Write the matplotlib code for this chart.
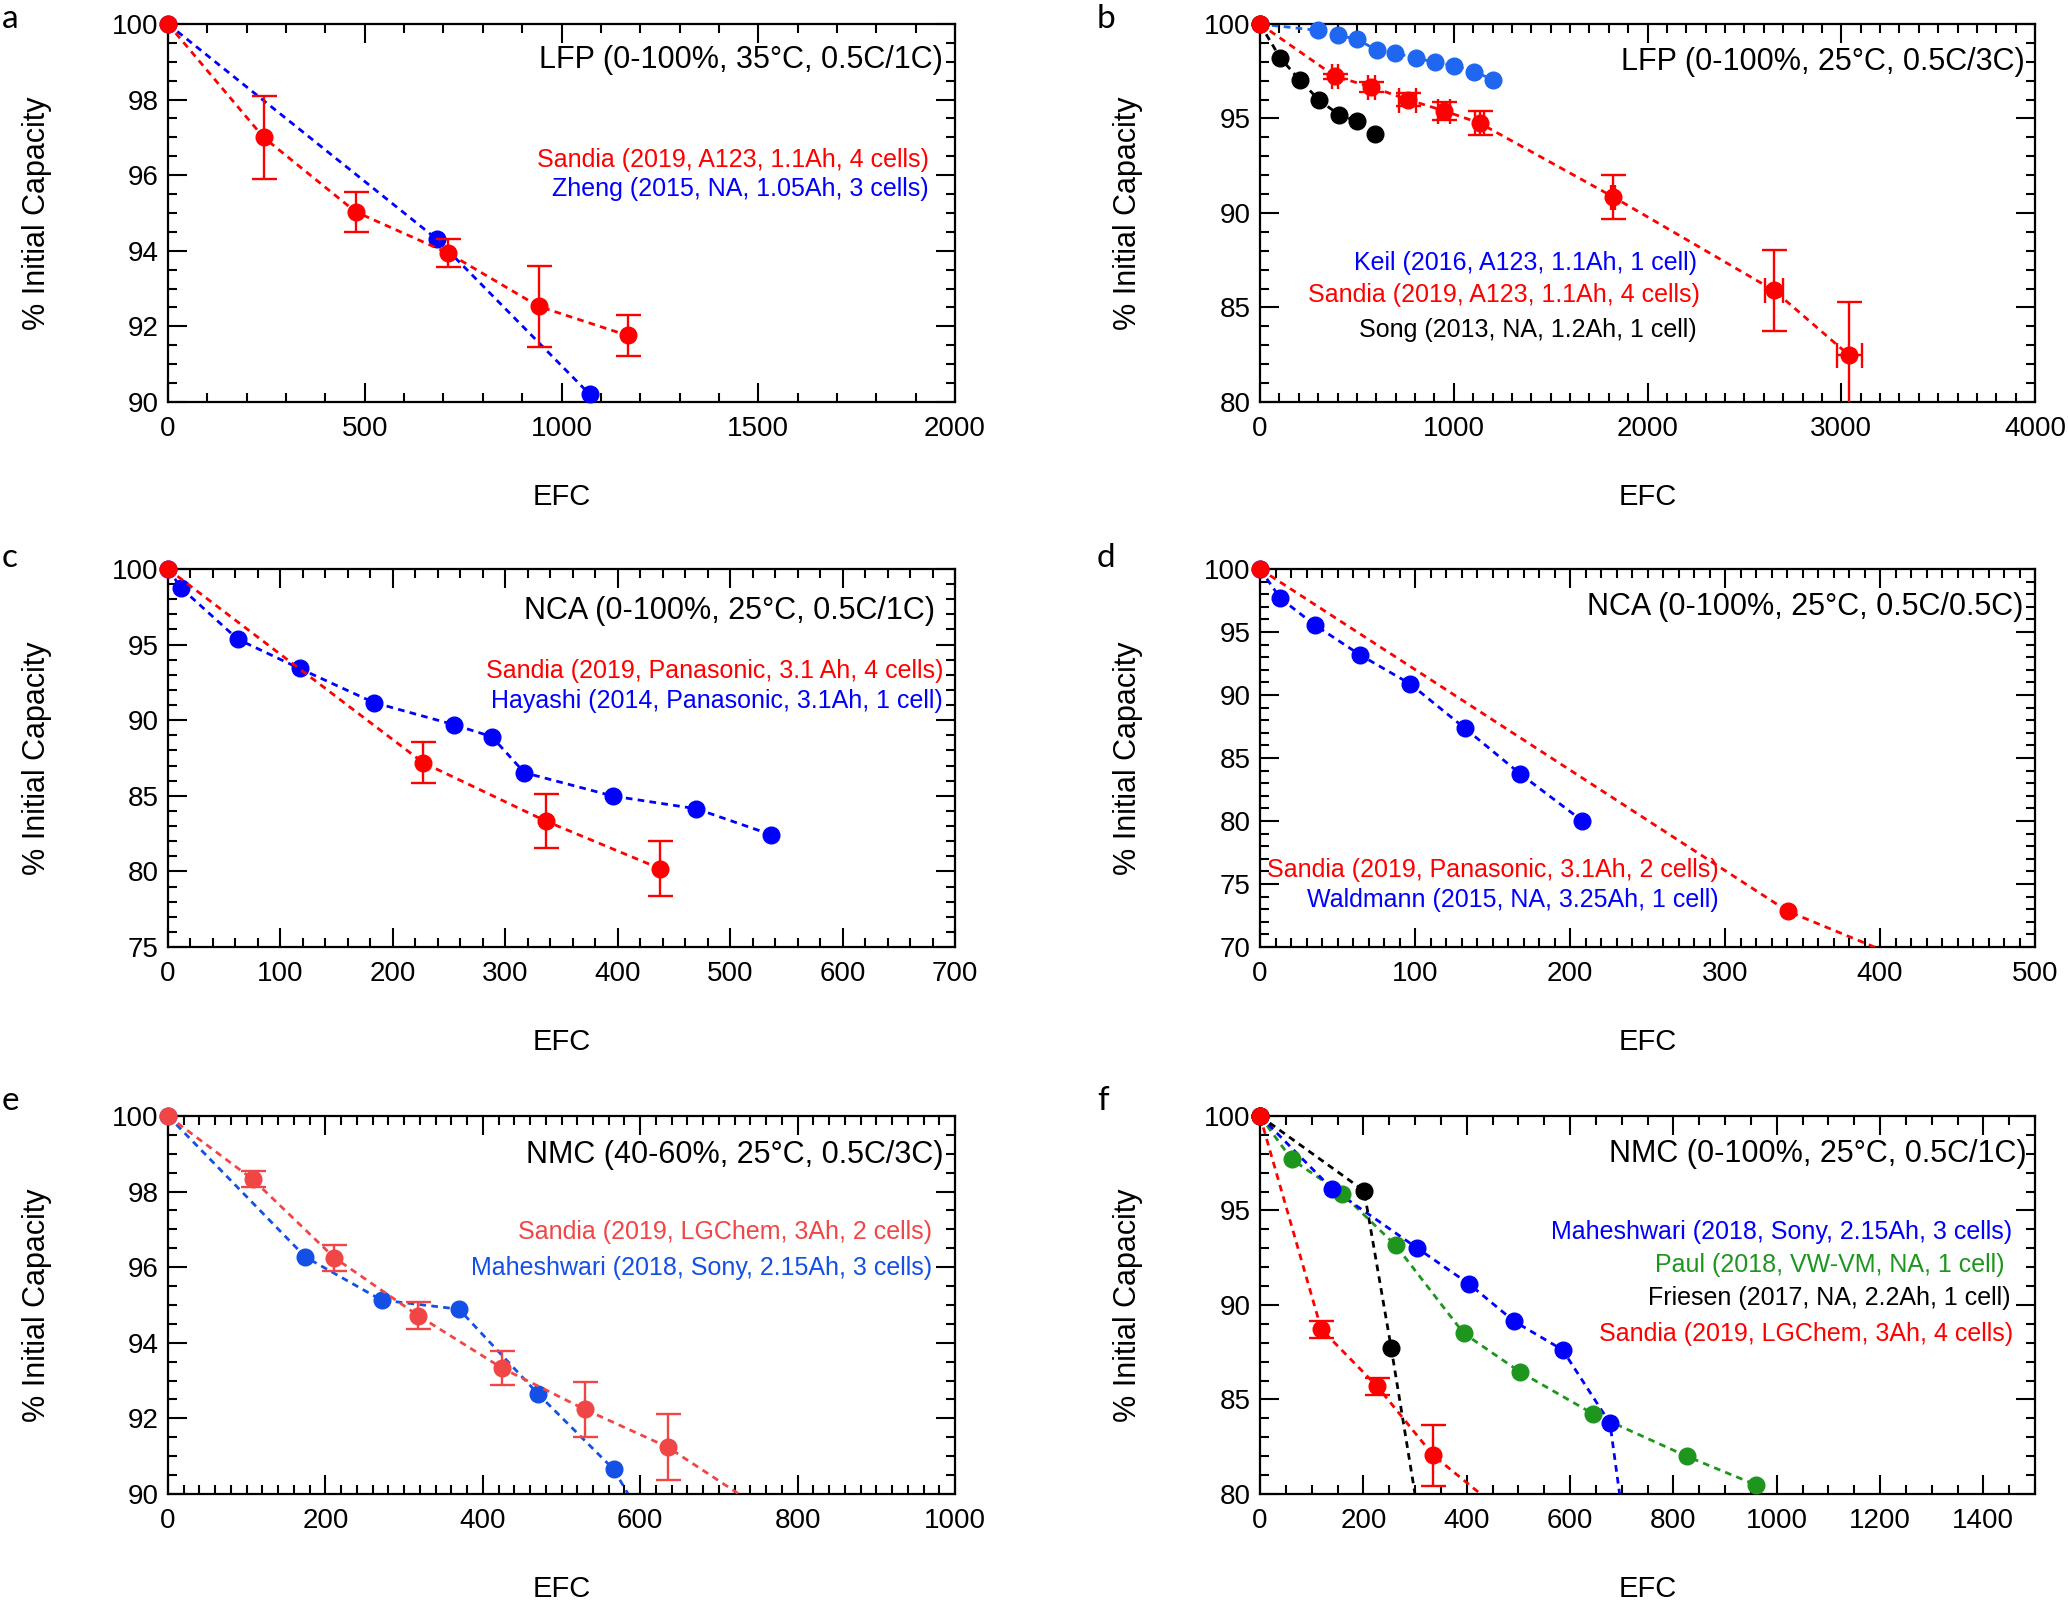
import numpy as np
import matplotlib
matplotlib.use('Agg')
import matplotlib.pyplot as plt
from matplotlib.ticker import MultipleLocator

plt.rcParams['font.family'] = ['Liberation Sans', 'DejaVu Sans']

# ---- panel a : LFP 35C ----
a_sandia_x = [0, 243, 477, 712, 942, 1168]
a_sandia_y = [100, 97.0, 95.03, 93.94, 92.53, 91.76]
a_sandia_err = [0, 1.1, 0.53, 0.37, 1.07, 0.54]
a_zheng_x = [0, 683, 1072]
a_zheng_y = [100, 94.31, 90.2]

# ---- panel b : LFP 25C ----
b_keil_x = [0, 299, 401, 500, 605, 697, 803, 901, 1003, 1105, 1204]
b_keil_y = [100, 99.66, 99.4, 99.2, 98.6, 98.47, 98.2, 97.99, 97.8, 97.48, 97.05]
b_sandia_x = [0, 388, 575, 762, 949, 1133, 1823, 2653, 3041]
b_sandia_y = [100, 97.23, 96.67, 96.0, 95.41, 94.76, 90.85, 85.9, 82.47]
b_sandia_yerr = [0, 0.15, 0.25, 0.33, 0.47, 0.62, 1.18, 2.13, 2.8]
b_sandia_xerr = [0, 15, 20, 43, 30, 25, 10, 47, 65]
b_song_x = [0, 105, 204, 306, 408, 503, 595]
b_song_y = [100, 98.2, 97.05, 95.96, 95.2, 94.85, 94.18]

# ---- panel c : NCA 0.5C/1C ----
c_sandia_x = [0, 227, 336, 437.5]
c_sandia_y = [100, 87.19, 83.33, 80.19]
c_sandia_err = [0, 1.35, 1.8, 1.8]
c_hayashi_x = [0, 12, 62, 117, 183, 254, 288, 317, 396, 470, 536]
c_hayashi_y = [100, 98.72, 95.36, 93.42, 91.17, 89.71, 88.91, 86.53, 84.98, 84.14, 82.44]

# ---- panel d : NCA 0.5C/0.5C ----
d_sandia_x = [0, 340.6, 420]
d_sandia_y = [100, 72.83, 68.8]
d_waldmann_x = [0, 13.2, 35.3, 64.6, 96.9, 132.2, 167.9, 207.9]
d_waldmann_y = [100, 97.67, 95.56, 93.18, 90.88, 87.36, 83.74, 80.02]

# ---- panel e : NMC 40-60% ----
e_sandia_x = [0, 107.4, 211.5, 318, 424.6, 529.5, 635, 740]
e_sandia_y = [100, 98.33, 96.25, 94.72, 93.33, 92.24, 91.24, 89.8]
e_sandia_err = [0, 0.22, 0.35, 0.35, 0.44, 0.73, 0.87, 0]
e_mahesh_x = [0, 174.6, 271.3, 369.7, 470.5, 566.4, 600]
e_mahesh_y = [100, 96.27, 95.13, 94.89, 92.64, 90.65, 89.45]

# ---- panel f : NMC 0-100% ----
f_mahesh_x = [0, 139, 304.8, 404.3, 492.3, 585.5, 677.3, 705]
f_mahesh_y = [100, 96.16, 93.0, 91.12, 89.13, 87.63, 83.75, 78.2]
f_paul_x = [0, 61.2, 159.4, 262.8, 394, 503.8, 645.4, 826.5, 959.2]
f_paul_y = [100, 97.71, 95.88, 93.15, 88.51, 86.45, 84.23, 81.99, 80.49]
f_friesen_x = [0, 201.5, 253.8, 306]
f_friesen_y = [100, 96.04, 87.75, 79.0]
f_sandia_x = [0, 118.6, 227, 335.5, 445]
f_sandia_y = [100, 88.72, 85.69, 82.04, 79.6]
f_sandia_err = [0, 0.44, 0.44, 1.6, 0]

RED = '#ff0000'
BLUE = '#0000ff'
BLUE2 = '#1f66f0'
RED_E = '#f04646'
BLUE_E = '#1450e6'
GREEN = '#1e961e'
BLACK = '#000000'

fig = plt.figure(figsize=(20.68, 16.03), dpi=100)
W, H = 2068.0, 1603.0
lefts = [168 / W, 1260 / W]
widths = [787 / W, 775 / W]
bottoms = [1 - 402 / H, 1 - 947 / H, 1 - 1494 / H]
ah = 378 / H


def make_ax(row, col, xlim, ylim, xmaj, xmin, ymaj, ymin, xticks=None):
    ax = fig.add_axes([lefts[col], bottoms[row], widths[col], ah])
    ax.set_xlim(*xlim)
    ax.set_ylim(*ylim)
    ax.xaxis.set_major_locator(MultipleLocator(xmaj))
    ax.xaxis.set_minor_locator(MultipleLocator(xmin))
    ax.yaxis.set_major_locator(MultipleLocator(ymaj))
    ax.yaxis.set_minor_locator(MultipleLocator(ymin))
    if xticks is not None:
        ax.set_xticks(xticks)
    ax.tick_params(which='both', direction='in', top=True, right=True, width=1.5)
    ax.tick_params(which='major', length=13.5)
    ax.tick_params(which='minor', length=6.5)
    ax.tick_params(axis='x', labelsize=20, pad=10)
    ax.tick_params(axis='y', labelsize=20, pad=7)
    for s in ax.spines.values():
        s.set_linewidth(1.6)
    ax.set_xlabel('EFC', fontsize=21, va='center')
    ax.xaxis.set_label_coords(0.5, -0.252)
    ax.set_ylabel('% Initial Capacity', fontsize=22, va='center')
    ax.yaxis.set_label_coords(-0.166 if col == 0 else -0.170, 0.5)
    return ax


def series(ax, x, y, color, yerr=None, xerr=None, z=2):
    x = np.asarray(x, float)
    y = np.asarray(y, float)
    ax.plot(x, y, ls=(0, (2.4, 1.9)), color=color, lw=2.0, zorder=z)
    if yerr is not None or xerr is not None:
        ye = np.zeros_like(y) if yerr is None else np.asarray(yerr, float)
        xe = np.zeros_like(x) if xerr is None else np.asarray(xerr, float)
        m = (ye > 0) | (xe > 0)
        ax.errorbar(x[m], y[m], yerr=ye[m] if yerr is not None else None,
                    xerr=xe[m] if xerr is not None else None, fmt='none',
                    ecolor=color, elinewidth=1.7, capsize=9, capthick=1.7,
                    zorder=z + 0.5)
    lo = ax.get_ylim()[0]
    vis = y >= lo
    ax.plot(x[vis], y[vis], 'o', ms=12, color=color, ls='none',
            clip_on=False, zorder=z + 1)


def note(ax, x, y, s, color, size=18):
    ax.text(x, y, s, transform=ax.transAxes, ha='right', va='center',
            fontsize=size, color=color)


# a
ax = make_ax(0, 0, (0, 2000), (90, 100), 500, 100, 2, 0.5)
series(ax, a_zheng_x, a_zheng_y, BLUE, z=2)
series(ax, a_sandia_x, a_sandia_y, RED, yerr=a_sandia_err, z=5)
note(ax, 0.985, 0.905, 'LFP (0-100%, 35°C, 0.5C/1C)', BLACK, 22)
note(ax, 0.967, 0.64, 'Sandia (2019, A123, 1.1Ah, 4 cells)', RED)
note(ax, 0.967, 0.563, 'Zheng (2015, NA, 1.05Ah, 3 cells)', BLUE)

# b
ax = make_ax(0, 1, (0, 4000), (80, 100), 1000, 100, 5, 1)
series(ax, b_keil_x, b_keil_y, BLUE2, z=2)
series(ax, b_song_x, b_song_y, BLACK, z=2)
series(ax, b_sandia_x, b_sandia_y, RED, yerr=b_sandia_yerr, xerr=b_sandia_xerr, z=5)
note(ax, 0.987, 0.9, 'LFP (0-100%, 25°C, 0.5C/3C)', BLACK, 22)
note(ax, 0.564, 0.367, 'Keil (2016, A123, 1.1Ah, 1 cell)', BLUE)
note(ax, 0.568, 0.283, 'Sandia (2019, A123, 1.1Ah, 4 cells)', RED)
note(ax, 0.563, 0.19, 'Song (2013, NA, 1.2Ah, 1 cell)', BLACK)

# c
ax = make_ax(1, 0, (0, 700), (75, 100), 100, 20, 5, 1)
series(ax, c_hayashi_x, c_hayashi_y, BLUE, z=2)
series(ax, c_sandia_x, c_sandia_y, RED, yerr=c_sandia_err, z=5)
note(ax, 0.975, 0.889, 'NCA (0-100%, 25°C, 0.5C/1C)', BLACK, 22)
note(ax, 0.985, 0.729, 'Sandia (2019, Panasonic, 3.1 Ah, 4 cells)', RED)
note(ax, 0.985, 0.65, 'Hayashi (2014, Panasonic, 3.1Ah, 1 cell)', BLUE)

# d
ax = make_ax(1, 1, (0, 500), (70, 100), 100, 10, 5, 1)
series(ax, d_waldmann_x, d_waldmann_y, BLUE, z=2)
series(ax, d_sandia_x, d_sandia_y, RED, z=5)
note(ax, 0.985, 0.9, 'NCA (0-100%, 25°C, 0.5C/0.5C)', BLACK, 22)
note(ax, 0.592, 0.204, 'Sandia (2019, Panasonic, 3.1Ah, 2 cells)', RED)
note(ax, 0.592, 0.125, 'Waldmann (2015, NA, 3.25Ah, 1 cell)', BLUE)

# e
ax = make_ax(2, 0, (0, 1000), (90, 100), 200, 20, 2, 0.5)
series(ax, e_mahesh_x, e_mahesh_y, BLUE_E, z=2)
series(ax, e_sandia_x, e_sandia_y, RED_E, yerr=e_sandia_err, z=5)
note(ax, 0.985, 0.897, 'NMC (40-60%, 25°C, 0.5C/3C)', BLACK, 22)
note(ax, 0.971, 0.693, 'Sandia (2019, LGChem, 3Ah, 2 cells)', RED_E)
note(ax, 0.971, 0.598, 'Maheshwari (2018, Sony, 2.15Ah, 3 cells)', BLUE_E)

# f
ax = make_ax(2, 1, (0, 1500), (80, 100), 200, 50, 5, 1,
             xticks=np.arange(0, 1401, 200))
series(ax, f_paul_x, f_paul_y, GREEN, z=2)
series(ax, f_mahesh_x, f_mahesh_y, BLUE, z=2)
series(ax, f_friesen_x, f_friesen_y, BLACK, z=2)
series(ax, f_sandia_x, f_sandia_y, RED, yerr=f_sandia_err, z=5)
note(ax, 0.989, 0.9, 'NMC (0-100%, 25°C, 0.5C/1C)', BLACK, 22)
note(ax, 0.970, 0.693, 'Maheshwari (2018, Sony, 2.15Ah, 3 cells)', BLUE)
note(ax, 0.961, 0.606, 'Paul (2018, VW-VM, NA, 1 cell)', GREEN)
note(ax, 0.969, 0.518, 'Friesen (2017, NA, 2.2Ah, 1 cell)', BLACK)
note(ax, 0.972, 0.423, 'Sandia (2019, LGChem, 3Ah, 4 cells)', RED)

# panel letters
for lab, x, y in [('a', 0.001, 0.9825), ('b', 0.5305, 0.9825),
                  ('c', 0.001, 0.6463), ('d', 0.5305, 0.6463),
                  ('e', 0.001, 0.3075), ('f', 0.5305, 0.3075)]:
    fig.text(x, y, lab, fontsize=24, family='Lato', va='baseline', ha='left')

fig.savefig('out.png', dpi=100)
